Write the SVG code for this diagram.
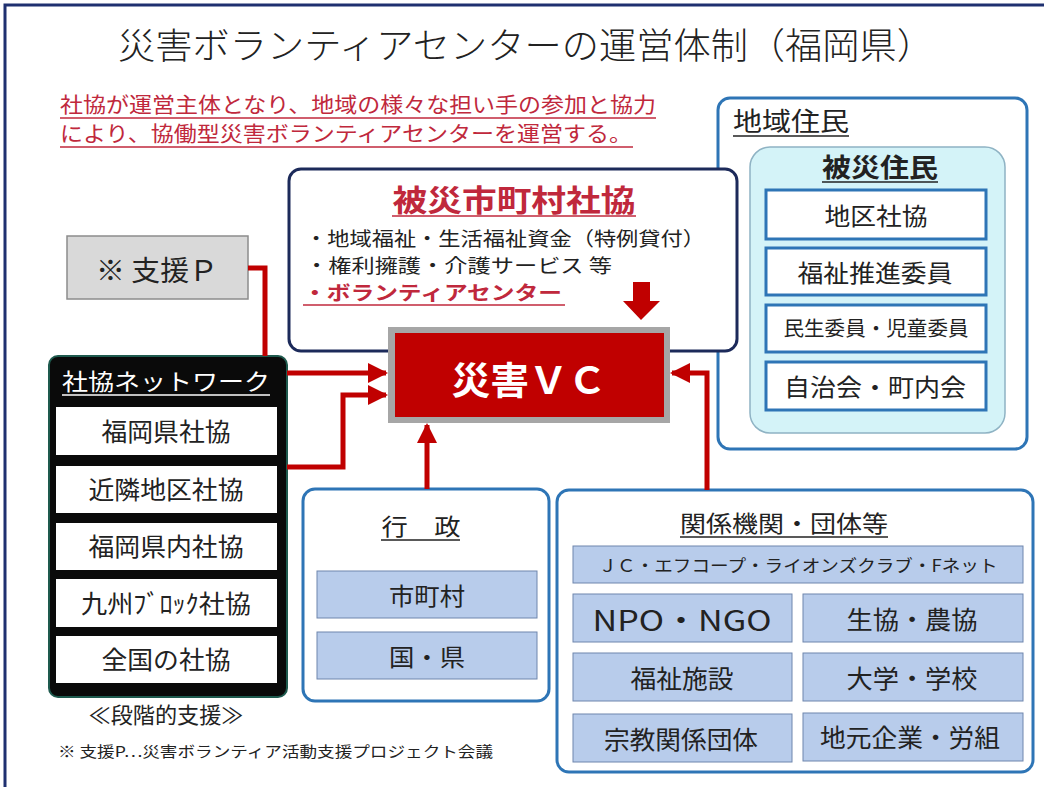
<svg xmlns="http://www.w3.org/2000/svg" width="1044" height="787" viewBox="0 0 1044 787">
<defs>
<style>
text{font-family:"Noto Sans CJK JP","Noto Sans",sans-serif;fill:#222;}
.c{text-anchor:middle;}
.blue{fill:none;stroke:#2e75b6;stroke-width:3;}
.cell{fill:#fff;stroke:#2e75b6;stroke-width:3;}
.net{fill:#fff;}
.pale{fill:#b8cceb;stroke:#6f86ad;stroke-width:1;}
.con{fill:none;stroke:#c00000;stroke-width:5;}
.ul{stroke-width:1.5;}
</style>
<marker id="ah" viewBox="0 0 10 10" refX="9" refY="5" markerWidth="4.2" markerHeight="4" orient="auto" markerUnits="strokeWidth">
<path d="M0,0 L10,5 L0,10 Z" fill="#c00000"/>
</marker>
</defs>
<rect width="1044" height="787" fill="#fff"/>
<rect x="5" y="5" width="1050" height="800" fill="none" stroke="#1f3070" stroke-width="3"/>

<g id="title">
<text x="526" y="59" class="c" font-size="36" font-weight="300" textLength="816" lengthAdjust="spacingAndGlyphs">災害ボランティアセンターの運営体制（福岡県）</text>
</g>
<g id="lead">
<text x="60" y="112" font-size="21" style="fill:#c0283c" textLength="596" lengthAdjust="spacingAndGlyphs">社協が運営主体となり、地域の様々な担い手の参加と協力</text>
<line x1="60" y1="118" x2="656" y2="118" stroke="#c0283c" class="ul"/>
<text x="60" y="141" font-size="21" style="fill:#c0283c" textLength="572" lengthAdjust="spacingAndGlyphs">により、協働型災害ボランティアセンターを運営する。</text>
<line x1="60" y1="147" x2="633" y2="147" stroke="#c0283c" class="ul"/>
</g>

<g id="chiiki">
<rect x="718" y="98" width="309" height="351" rx="12" class="blue"/>
<text x="733" y="131" font-size="26" textLength="116" lengthAdjust="spacingAndGlyphs">地域住民</text>
<line x1="733" y1="136" x2="849" y2="136" stroke="#222" class="ul"/>
<rect x="750" y="147" width="255" height="286" rx="20" fill="#d4f3f8" stroke="#8fb3c4" stroke-width="1.5"/>
<text x="880" y="177" class="c" font-size="26" font-weight="bold" textLength="116" lengthAdjust="spacingAndGlyphs">被災住民</text>
<line x1="822" y1="182" x2="938" y2="182" stroke="#222" class="ul"/>
<rect x="766" y="190" width="220" height="49" class="cell"/>
<text x="876" y="225" class="c" font-size="24" textLength="103" lengthAdjust="spacingAndGlyphs">地区社協</text>
<rect x="766" y="248" width="220" height="47" class="cell"/>
<text x="875" y="282" class="c" font-size="24" textLength="155" lengthAdjust="spacingAndGlyphs">福祉推進委員</text>
<rect x="766" y="305" width="220" height="47" class="cell"/>
<text x="876" y="336" class="c" font-size="20" textLength="185" lengthAdjust="spacingAndGlyphs">民生委員・児童委員</text>
<rect x="766" y="362" width="220" height="48" class="cell"/>
<text x="875" y="396" class="c" font-size="24" textLength="182" lengthAdjust="spacingAndGlyphs">自治会・町内会</text>
</g>

<g id="hisai-shakyo">
<rect x="289" y="169" width="448" height="182" rx="12" fill="#fff" stroke="#1c2a5a" stroke-width="3"/>
<text x="514" y="211" class="c" font-size="30" font-weight="bold" style="fill:#c0283c" textLength="243" lengthAdjust="spacingAndGlyphs">被災市町村社協</text>
<line x1="392" y1="216" x2="636" y2="216" stroke="#c0283c" class="ul"/>
<text x="305" y="246" font-size="19.5" textLength="400" lengthAdjust="spacingAndGlyphs">・地域福祉・生活福祉資金（特例貸付）</text>
<text x="305" y="273" font-size="19.5" textLength="307" lengthAdjust="spacingAndGlyphs">・権利擁護・介護サービス 等</text>
<text x="303" y="300" font-size="19.5" font-weight="bold" style="fill:#c0283c" textLength="259" lengthAdjust="spacingAndGlyphs">・ボランティアセンター</text>
<line x1="303" y1="305" x2="565" y2="305" stroke="#c0283c" class="ul"/>
<path d="M633,282 H650 V301 H660 L641,320 L623,301 H633 Z" fill="#c00000"/>
</g>

<g id="saigai-vc">
<rect x="388" y="327" width="282" height="96" fill="#a6a6a6"/>
<rect x="395" y="333" width="269" height="84" fill="#c00000"/>
<text x="529" y="394" class="c" font-size="38" font-weight="bold" style="fill:#fff" textLength="155" lengthAdjust="spacingAndGlyphs">災害ＶＣ</text>
</g>

<g id="shien-p">
<rect x="67" y="236" width="181" height="63" fill="#d9d9d9" stroke="#8c8c8c" stroke-width="1.5"/>
<text x="157" y="281" class="c" font-size="28" textLength="122" lengthAdjust="spacingAndGlyphs">※ 支援Ｐ</text>
</g>

<g id="network">
<rect x="49" y="356" width="238" height="341" rx="9" fill="#0a0a0a" stroke="#1e5a4e" stroke-width="2"/>
<text x="62" y="390" font-size="23" style="fill:#fff" textLength="208" lengthAdjust="spacingAndGlyphs">社協ネットワーク</text>
<line x1="62" y1="395" x2="270" y2="395" stroke="#fff" class="ul"/>
<rect x="56" y="407" width="221" height="48" class="net"/>
<text x="166" y="441" class="c" font-size="25" textLength="129" lengthAdjust="spacingAndGlyphs">福岡県社協</text>
<rect x="56" y="466" width="221" height="47" class="net"/>
<text x="166" y="499" class="c" font-size="25" textLength="155" lengthAdjust="spacingAndGlyphs">近隣地区社協</text>
<rect x="56" y="523" width="221" height="47" class="net"/>
<text x="166" y="556" class="c" font-size="25" textLength="155" lengthAdjust="spacingAndGlyphs">福岡県内社協</text>
<rect x="56" y="579" width="221" height="48" class="net"/>
<text x="166" y="613" class="c" font-size="25" textLength="170" lengthAdjust="spacingAndGlyphs">九州ﾌﾞﾛｯｸ社協</text>
<rect x="56" y="636" width="221" height="47" class="net"/>
<text x="166" y="669" class="c" font-size="25" textLength="129" lengthAdjust="spacingAndGlyphs">全国の社協</text>
<text x="166" y="723" class="c" font-size="22" textLength="155" lengthAdjust="spacingAndGlyphs">≪段階的支援≫</text>
</g>

<g id="note">
<text x="58" y="757" font-size="15" textLength="435" lengthAdjust="spacingAndGlyphs">※ 支援P…災害ボランティア活動支援プロジェクト会議</text>
</g>

<g id="gyosei">
<rect x="303" y="489" width="246" height="212" rx="12" class="blue"/>
<text x="421" y="535" class="c" font-size="23" textLength="79" lengthAdjust="spacingAndGlyphs">行　政</text>
<line x1="381" y1="540" x2="460" y2="540" stroke="#222" class="ul"/>
<rect x="317" y="571" width="220" height="47" class="pale"/>
<text x="427" y="605" class="c" font-size="24" textLength="76" lengthAdjust="spacingAndGlyphs">市町村</text>
<rect x="317" y="632" width="220" height="47" class="pale"/>
<text x="427" y="666" class="c" font-size="24" textLength="76" lengthAdjust="spacingAndGlyphs">国・県</text>
</g>

<g id="kankei">
<rect x="557" y="490" width="476" height="282" rx="12" class="blue"/>
<text x="784" y="532" class="c" font-size="23" textLength="208" lengthAdjust="spacingAndGlyphs">関係機関・団体等</text>
<line x1="680" y1="537" x2="888" y2="537" stroke="#222" class="ul"/>
<rect x="573" y="546" width="450" height="37" class="pale"/>
<text x="798" y="572" class="c" font-size="17" textLength="399" lengthAdjust="spacingAndGlyphs">ＪＣ・エフコープ・ライオンズクラブ・Fネット</text>
<rect x="573" y="594" width="219" height="48" class="pale"/>
<text x="682" y="631" class="c" font-size="28" textLength="179" lengthAdjust="spacingAndGlyphs">NPO・NGO</text>
<rect x="803" y="594" width="220" height="48" class="pale"/>
<text x="912" y="629" class="c" font-size="25" textLength="131" lengthAdjust="spacingAndGlyphs">生協・農協</text>
<rect x="573" y="653" width="219" height="48" class="pale"/>
<text x="682" y="688" class="c" font-size="25" textLength="103" lengthAdjust="spacingAndGlyphs">福祉施設</text>
<rect x="803" y="653" width="220" height="48" class="pale"/>
<text x="912" y="688" class="c" font-size="25" textLength="131" lengthAdjust="spacingAndGlyphs">大学・学校</text>
<rect x="573" y="714" width="219" height="48" class="pale"/>
<text x="681" y="749" class="c" font-size="25" textLength="154" lengthAdjust="spacingAndGlyphs">宗教関係団体</text>
<rect x="803" y="713" width="220" height="48" class="pale"/>
<text x="910" y="747" class="c" font-size="25" textLength="180" lengthAdjust="spacingAndGlyphs">地元企業・労組</text>
</g>

<g id="connectors">
<path class="con" d="M248,268 H265 V356"/>
<path class="con" d="M287,373 H386" marker-end="url(#ah)"/>
<path class="con" d="M287,467 H343 V395 H386" marker-end="url(#ah)"/>
<path class="con" d="M427,489 V425" marker-end="url(#ah)"/>
<path class="con" d="M707,490 V373 H672" marker-end="url(#ah)"/>
</g>
</svg>
